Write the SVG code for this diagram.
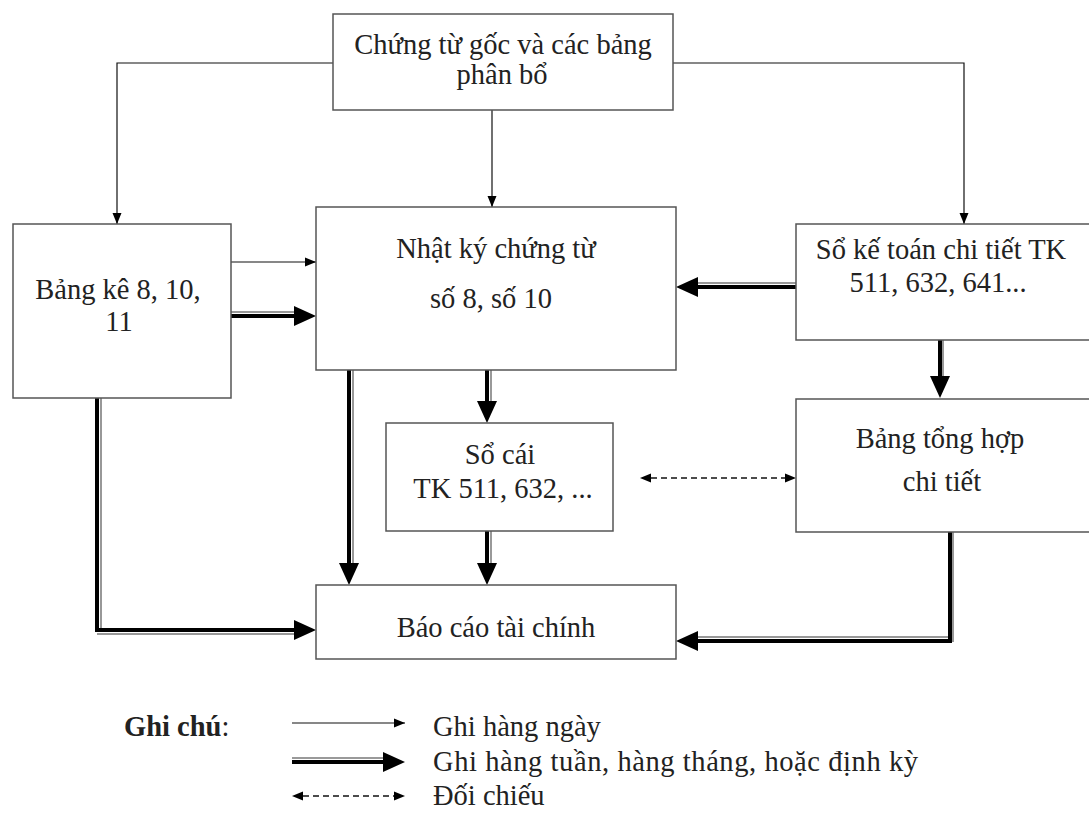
<svg xmlns="http://www.w3.org/2000/svg" width="1089" height="814" viewBox="0 0 1089 814">
<style>
.box{fill:#fff;stroke:#555;stroke-width:1.5}
.t{font-family:"Liberation Serif","Times New Roman",serif;font-size:28.5px;fill:#222;text-anchor:middle}
.lt{font-family:"Liberation Serif","Times New Roman",serif;font-size:28.5px;fill:#222}
.thin{fill:none;stroke:#111;stroke-width:1.2}
.blk{fill:none;stroke:#000;stroke-width:4}
.gry{fill:none;stroke:#777;stroke-width:1.5}
.dash{fill:none;stroke:#111;stroke-width:1.5;stroke-dasharray:6 4}
</style>
<defs>
<marker id="a" markerUnits="userSpaceOnUse" markerWidth="14" markerHeight="12" refX="11" refY="5" orient="auto"><path d="M0,0.5 L11,5 L0,9.5 z" fill="#000"/></marker>
<marker id="as" markerUnits="userSpaceOnUse" markerWidth="14" markerHeight="12" refX="0" refY="5" orient="auto-start-reverse"><path d="M0,0.5 L11,5 L0,9.5 z" fill="#000"/></marker>
<marker id="ae" markerUnits="userSpaceOnUse" markerWidth="14" markerHeight="12" refX="0" refY="5" orient="auto"><path d="M0,0.5 L11,5 L0,9.5 z" fill="#000"/></marker>
<marker id="b" markerUnits="userSpaceOnUse" markerWidth="24" markerHeight="22" refX="0" refY="11" orient="auto"><path d="M0,1 L22,11 L0,21 z" fill="#000"/></marker>
</defs>
<rect width="1089" height="814" fill="#fff"/>
<g id="connectors">
<path class="thin" d="M333,63 H117 V224" marker-end="url(#a)"/>
<path class="thin" d="M492,110 V207" marker-end="url(#a)"/>
<path class="thin" d="M673,63 H964 V224" marker-end="url(#a)"/>
<path class="thin" d="M231,262 H316" marker-end="url(#a)"/>
<path class="gry" d="M231,312 H294"/>
<path class="blk" d="M231,316 H294" marker-end="url(#b)"/>
<path class="gry" d="M796,283 H698"/>
<path class="blk" d="M796,287 H698" marker-end="url(#b)"/>
<path class="gry" d="M943,340 V376"/>
<path class="blk" d="M940,340 V376" marker-end="url(#b)"/>
<path class="gry" d="M353,370 V563"/>
<path class="blk" d="M349,370 V563" marker-end="url(#b)"/>
<path class="gry" d="M491,370 V401"/>
<path class="blk" d="M487,370 V401" marker-end="url(#b)"/>
<path class="gry" d="M491,531 V563"/>
<path class="blk" d="M487,531 V563" marker-end="url(#b)"/>
<path class="dash" d="M651,478 H785" marker-start="url(#as)" marker-end="url(#ae)"/>
<path class="gry" d="M101,398 V628 M97,634 H294"/>
<path class="blk" d="M97,398 V630 H294" marker-end="url(#b)"/>
<path class="gry" d="M953,532 V642 M698,637 H950"/>
<path class="blk" d="M950,532 V641 H698" marker-end="url(#b)"/>
</g>
<g id="n-top"><rect class="box" x="333" y="14" width="340" height="96"/>
<text class="t" x="503" y="54">Chứng từ gốc và các bảng</text><text class="t" x="502" y="84">phân bổ</text></g>
<g id="n-bangke"><rect class="box" x="13" y="224" width="218" height="174"/>
<text class="t" x="118" y="299">Bảng kê 8, 10,</text><text class="t" x="119" y="331">11</text></g>
<g id="n-nhatky"><rect class="box" x="316" y="207" width="360" height="163"/>
<text class="t" x="496" y="258">Nhật ký chứng từ</text><text class="t" x="491" y="308">số 8, số 10</text></g>
<g id="n-sokt"><rect class="box" x="796" y="224" width="300" height="116"/>
<text class="t" x="941" y="259">Sổ kế toán chi tiết TK</text><text class="t" x="938" y="292">511, 632, 641...</text></g>
<g id="n-socai"><rect class="box" x="386" y="423" width="227" height="108"/>
<text class="t" x="500" y="464">Sổ cái</text><text class="t" x="503" y="498">TK 511, 632, ...</text></g>
<g id="n-tonghop"><rect class="box" x="796" y="399" width="300" height="133"/>
<text class="t" x="940" y="448">Bảng tổng hợp</text><text class="t" x="942" y="491">chi tiết</text></g>
<g id="n-baocao"><rect class="box" x="316" y="585" width="360" height="74"/>
<text class="t" x="496" y="637">Báo cáo tài chính</text></g>
<g id="legend">
<text class="lt" x="124" y="736"><tspan font-weight="bold">Ghi chú</tspan>:</text>
<path class="thin" d="M292,723 H405" marker-end="url(#a)"/>
<path class="gry" d="M292,758 H383"/>
<path class="blk" d="M292,762 H383" marker-end="url(#b)"/>
<path class="dash" d="M303,796 H394" marker-start="url(#as)" marker-end="url(#ae)"/>
<text class="lt" x="433" y="736">Ghi hàng ngày</text>
<text class="lt" x="433" y="771" textLength="485" lengthAdjust="spacing">Ghi hàng tuần, hàng tháng, hoặc định kỳ</text>
<text class="lt" x="433" y="805">Đối chiếu</text>
</g>
</svg>
